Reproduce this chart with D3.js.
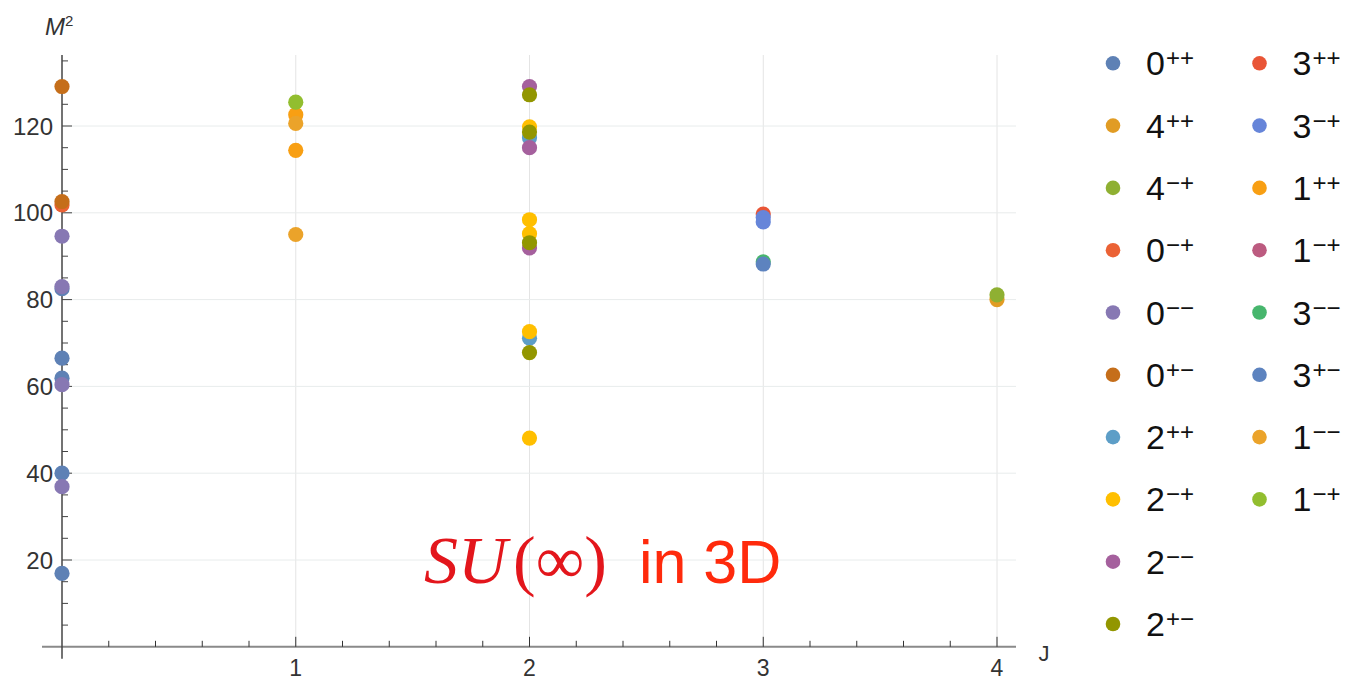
<!DOCTYPE html>
<html>
<head>
<meta charset="utf-8">
<script src="https://cdn.jsdelivr.net/npm/d3@7"></script>
<style>
  html, body { margin: 0; padding: 0; background: #fff; }
  svg { display: block; }
  text { font-family: "Liberation Sans", Arial, Helvetica, sans-serif; }
</style>
</head>
<body>
<svg id="chart" width="1352" height="682"></svg>
<script>
// Glueball masses M^2 against spin J, one array per J^PC channel
const m2_0pp = [16.9, 40.0, 61.9, 66.5, 82.5];
const m2_4pp = [80.0];
const m2_4mp = [81.1];
const m2_0mp = [101.8];
const m2_0mm = [36.9, 60.4, 83.0, 94.6];
const m2_0pm = [102.6, 129.1];
const m2_2pp = [71.1, 117.3];
const m2_2mp = [48.1, 72.6, 95.2, 98.4, 119.8];
const m2_2mm = [91.9, 115.0, 129.1];
const m2_2pm = [67.8, 93.1, 118.6, 127.2];
const m2_3pp = [99.7];
const m2_3mp = [98.9, 97.9];
const m2_1pp = [122.6, 114.4];
const m2_1mp_a = [];
const m2_3mm = [88.7];
const m2_3pm = [88.2];
const m2_1mm = [120.6, 95.0];
const m2_1mp = [125.5];

// channel labels: spin digit and PC superscript
const spins  = [0, 4, 4, 0, 0, 0, 2, 2, 2, 2, 3, 3, 1, 1, 3, 3, 1, 1];
const pcTags = ["++", "++", "\u2212+", "\u2212+", "\u2212\u2212", "+\u2212", "++", "\u2212+", "\u2212\u2212", "+\u2212",
                "++", "\u2212+", "++", "\u2212+", "\u2212\u2212", "+\u2212", "\u2212\u2212", "\u2212+"];
const seriesValues = [m2_0pp, m2_4pp, m2_4mp, m2_0mp, m2_0mm, m2_0pm, m2_2pp, m2_2mp, m2_2mm, m2_2pm,
                      m2_3pp, m2_3mp, m2_1pp, m2_1mp_a, m2_3mm, m2_3pm, m2_1mm, m2_1mp];
const palette = ["#5E81B5", "#E19C24", "#8FB032", "#EB6235", "#8778B3", "#C56E1A", "#5D9EC7", "#FFBF00", "#A5609D", "#929600",
                 "#E95536", "#6685D9", "#F89F13", "#BC5B80", "#47B66D", "#5D83BF", "#EBA32A", "#92BE2F"];

const xTicks = [1, 2, 3, 4];
const yTicks = [20, 40, 60, 80, 100, 120];

const svg = d3.select("#chart");

const x = d3.scaleLinear().domain([0, 4]).range([62, 997]);
const y = d3.scaleLinear().domain([0, 120]).range([646.8, 126]);
const xMin = x.invert(42), xMax = x.invert(1016);
const yTop = y.invert(55);

// gridlines
const grid = svg.append("g");
grid.selectAll("line.gx").data(xTicks).join("line")
  .attr("x1", d => x(d)).attr("x2", d => x(d))
  .attr("y1", y(yTop)).attr("y2", y(0))
  .attr("stroke", "#e4e4e4").attr("stroke-width", 1);
grid.selectAll("line.gy").data(yTicks).join("line")
  .attr("x1", x(0)).attr("x2", x(xMax))
  .attr("y1", d => y(d)).attr("y2", d => y(d))
  .attr("stroke", "#e8ecec").attr("stroke-width", 1);

// x axis (line through M^2 = 0)
const xAxis = svg.append("g");
xAxis.append("line")
  .attr("x1", x(xMin)).attr("x2", x(xMax))
  .attr("y1", y(0)).attr("y2", y(0))
  .attr("stroke", "#8a8a8a").attr("stroke-width", 2);
const xMinor = d3.range(0.2, 4.001, 0.2).filter(d => Math.abs(d - Math.round(d)) > 1e-6);
xAxis.selectAll("line.minor").data(xMinor).join("line")
  .attr("x1", d => x(d)).attr("x2", d => x(d))
  .attr("y1", y(0)).attr("y2", y(0) - 6)
  .attr("stroke", "#333").attr("stroke-width", 1);
xAxis.selectAll("line.major").data(xTicks).join("line")
  .attr("x1", d => x(d)).attr("x2", d => x(d))
  .attr("y1", y(0)).attr("y2", y(0) - 10)
  .attr("stroke", "#333").attr("stroke-width", 1);
xAxis.selectAll("text").data(xTicks).join("text")
  .attr("x", d => x(d)).attr("y", y(0) + 29)
  .attr("text-anchor", "middle")
  .attr("font-size", 23).attr("fill", "#333")
  .text(d => d);
svg.append("text").attr("x", 1044).attr("y", 661)
  .attr("text-anchor", "middle").attr("font-size", 22).attr("fill", "#333").text("J");

// y axis
const yAxis = svg.append("g");
yAxis.append("line")
  .attr("x1", x(0)).attr("x2", x(0))
  .attr("y1", y(yTop)).attr("y2", y(0) + 12)
  .attr("stroke", "#444").attr("stroke-width", 1.5);
const yMinor = d3.range(5, 136, 5).filter(d => d % 20 !== 0);
yAxis.selectAll("line.minor").data(yMinor).join("line")
  .attr("x1", x(0)).attr("x2", x(0) + 6)
  .attr("y1", d => y(d)).attr("y2", d => y(d))
  .attr("stroke", "#444").attr("stroke-width", 1);
yAxis.selectAll("line.major").data(yTicks).join("line")
  .attr("x1", x(0)).attr("x2", x(0) + 10)
  .attr("y1", d => y(d)).attr("y2", d => y(d))
  .attr("stroke", "#444").attr("stroke-width", 1);
yAxis.selectAll("text").data(yTicks).join("text")
  .attr("x", 53).attr("y", d => y(d) + 8.5)
  .attr("text-anchor", "end")
  .attr("font-size", 24).attr("fill", "#333")
  .text(d => d);
const m2Label = svg.append("text").attr("x", 45).attr("y", 35).attr("font-size", 24).attr("fill", "#333");
m2Label.append("tspan").attr("font-style", "italic").text("M");
m2Label.append("tspan").attr("font-size", 15).attr("dy", -9).text("2");

// points, drawn in channel order so later channels sit on top
const points = svg.append("g");
seriesValues.forEach((vals, i) => {
  points.selectAll(null).data(vals).join("circle")
    .attr("cx", x(spins[i])).attr("cy", d => y(d))
    .attr("r", 7.6).attr("fill", palette[i]);
});

// annotation
const serif = "'Liberation Serif', 'DejaVu Serif', serif";
const note = svg.append("text").attr("x", 424).attr("y", 583).attr("font-size", 68);
note.append("tspan").attr("font-family", serif)
  .attr("font-style", "italic").attr("fill", "#e3161c").text("SU");
note.append("tspan").attr("font-family", serif)
  .attr("fill", "#e3161c").attr("dx", 6).text("(\u221E)");
note.append("tspan").attr("fill", "#ff2a0c").attr("font-size", 61).attr("dx", 32).text("in 3D");

// legend: two columns of ten rows
const legend = svg.append("g");
const rowH = 62.3;
seriesValues.forEach((vals, i) => {
  const col = i < 10 ? 0 : 1;
  const row = i < 10 ? i : i - 10;
  const cy = 63.3 + row * rowH;
  const dotX = col === 0 ? 1113 : 1259.5;
  legend.append("circle").attr("cx", dotX).attr("cy", cy).attr("r", 7.3).attr("fill", palette[i]);
  const t = legend.append("text").attr("x", dotX + 33).attr("y", cy + 12)
    .attr("font-size", 34).attr("fill", "#111");
  t.append("tspan").text(spins[i]);
  t.append("tspan").attr("font-size", 24).attr("dy", -9).attr("dx", 1).text(pcTags[i]);
});
</script>
</body>
</html>
